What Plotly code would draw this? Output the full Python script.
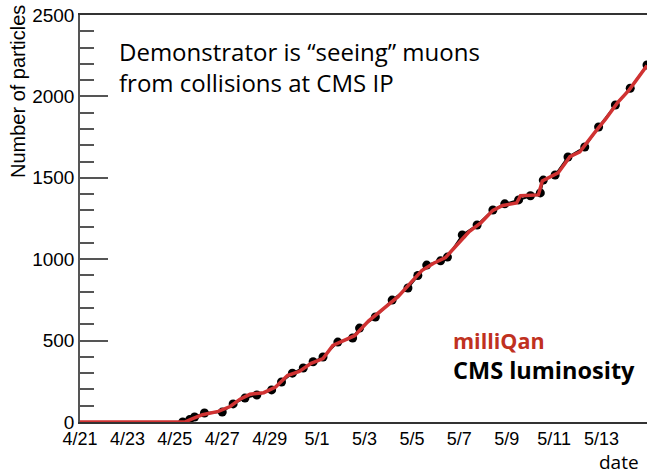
import plotly.graph_objects as go

# CMS luminosity (black dots), scaled to number of particles
lumi_dates = [
    "2018-04-25 08:00", "2018-04-25 15:00", "2018-04-25 20:00", "2018-04-26 06:00",
    "2018-04-27 00:00", "2018-04-27 11:00", "2018-04-27 23:00", "2018-04-28 11:00",
    "2018-04-29 02:00", "2018-04-29 12:00", "2018-04-29 23:00", "2018-04-30 10:00",
    "2018-04-30 20:00", "2018-05-01 06:00", "2018-05-01 21:00", "2018-05-02 12:00",
    "2018-05-02 19:00", "2018-05-03 11:00", "2018-05-04 04:00", "2018-05-04 20:00",
    "2018-05-05 06:00", "2018-05-05 15:00", "2018-05-06 05:00", "2018-05-06 12:00",
    "2018-05-07 03:00", "2018-05-07 18:00", "2018-05-08 10:00", "2018-05-08 22:00",
    "2018-05-09 12:00", "2018-05-10 00:00", "2018-05-10 10:00", "2018-05-10 13:00",
    "2018-05-11 01:00", "2018-05-11 14:00", "2018-05-12 07:00", "2018-05-12 21:00",
    "2018-05-13 14:00", "2018-05-14 05:00", "2018-05-14 22:00",
]
lumi_counts = [
    0, 15, 31, 55, 61, 111, 147, 166, 197, 246, 300, 332, 370, 399, 491, 516,
    577, 645, 749, 823, 900, 964, 990, 1013, 1149, 1210, 1302, 1340, 1364,
    1390, 1407, 1486, 1517, 1628, 1689, 1812, 1947, 2050, 2193,
]

# milliQan observed counts (red line)
mq_dates = [
    "2018-04-21 00:00", "2018-04-25 10:00", "2018-04-25 18:00", "2018-04-26 04:00",
    "2018-04-26 20:00", "2018-04-27 08:00", "2018-04-27 18:00", "2018-04-28 04:00",
    "2018-04-28 18:00", "2018-04-29 06:00", "2018-04-29 18:00", "2018-04-30 06:00",
    "2018-04-30 18:00", "2018-05-01 06:00", "2018-05-01 16:00", "2018-05-02 04:00",
    "2018-05-02 14:00", "2018-05-03 04:00", "2018-05-03 20:00", "2018-05-04 10:00",
    "2018-05-04 22:00", "2018-05-05 10:00", "2018-05-05 22:00", "2018-05-06 10:00",
    "2018-05-06 22:00", "2018-05-07 10:00", "2018-05-07 22:00", "2018-05-08 10:00",
    "2018-05-08 20:00", "2018-05-09 10:00", "2018-05-09 14:00", "2018-05-10 08:00",
    "2018-05-10 12:00", "2018-05-11 04:00", "2018-05-11 16:00", "2018-05-12 02:00",
    "2018-05-12 16:00", "2018-05-13 04:00", "2018-05-13 16:00", "2018-05-14 04:00",
    "2018-05-14 22:00",
]
mq_counts = [
    0, 0, 20, 45, 65, 95, 140, 170, 180, 215, 285, 310, 360, 390, 470, 500,
    530, 620, 700, 770, 850, 930, 975, 1010, 1090, 1170, 1225, 1300, 1330,
    1345, 1390, 1395, 1480, 1530, 1630, 1660, 1770, 1860, 1960, 2040, 2190,
]

tick_dates = ["2018-04-21", "2018-04-23", "2018-04-25", "2018-04-27", "2018-04-29",
              "2018-05-01", "2018-05-03", "2018-05-05", "2018-05-07", "2018-05-09",
              "2018-05-11", "2018-05-13"]
tick_labels = ["4/21", "4/23", "4/25", "4/27", "4/29", "5/1", "5/3", "5/5",
               "5/7", "5/9", "5/11", "5/13"]

fig = go.Figure()

fig.add_trace(go.Scatter(
    x=lumi_dates, y=lumi_counts, mode="lines+markers",
    line=dict(color="black", width=2),
    marker=dict(color="black", size=9),
    showlegend=False,
))
fig.add_trace(go.Scatter(
    x=mq_dates, y=mq_counts, mode="lines",
    line=dict(color="#d03232", width=3.5),
    showlegend=False,
))

helv = "Liberation Sans, Arial, sans-serif"
calib = "Open Sans, Lato, sans-serif"

fig.update_layout(
    width=647, height=472,
    margin=dict(l=80, r=0, t=15, b=50),
    plot_bgcolor="white", paper_bgcolor="white",
    font=dict(family=helv, size=18, color="black"),
    xaxis=dict(
        type="date", automargin=False,
        range=["2018-04-21 00:00", "2018-05-14 22:00"],
        tickvals=tick_dates, ticktext=tick_labels,
        showgrid=False, zeroline=False,
        showline=True, linecolor="#333", linewidth=1.5, mirror=True,
        ticks="", tickfont=dict(size=18, family=helv),
    ),
    yaxis=dict(
        range=[0, 2500], dtick=500, automargin=False,
        showgrid=False, zeroline=False,
        showline=True, linecolor="#555", linewidth=1.5,
        ticks="inside", ticklen=28, tickcolor="#555", tickwidth=1.5,
        minor=dict(dtick=100, ticks="inside", ticklen=14, tickcolor="#555", tickwidth=1.5),
        tickfont=dict(size=19, family=helv),
    ),
    annotations=[
        dict(text="Number of particles", textangle=-90, xref="paper", yref="paper",
             x=-0.108, y=1.03, xanchor="center", yanchor="top", showarrow=False,
             font=dict(size=20, family=helv)),
        dict(text="Demonstrator is “seeing” muons<br>from collisions at CMS IP",
             xref="paper", yref="paper", x=0.066, y=0.955, xanchor="left", yanchor="top",
             align="left", showarrow=False, font=dict(size=24, family=calib)),
        dict(text="<b>milliQan</b>", xref="paper", yref="paper", x=0.655, y=0.2,
             xanchor="left", yanchor="middle", showarrow=False,
             font=dict(size=21.5, family=calib, color="#c0311f")),
        dict(text="<b>CMS luminosity</b>", xref="paper", yref="paper", x=0.655, y=0.128,
             xanchor="left", yanchor="middle", showarrow=False,
             font=dict(size=23.5, family=calib, color="black")),
        dict(text="date", xref="paper", yref="paper", x=0.99, y=-0.098,
             xanchor="right", yanchor="middle", showarrow=False,
             font=dict(size=19, family=calib)),
    ],
)

# the page adds an 8px body margin; remove it so the figure sits at the corner
fig.write_html("out.html", config={"displayModeBar": False},
               post_script="document.body.style.margin='0';")
